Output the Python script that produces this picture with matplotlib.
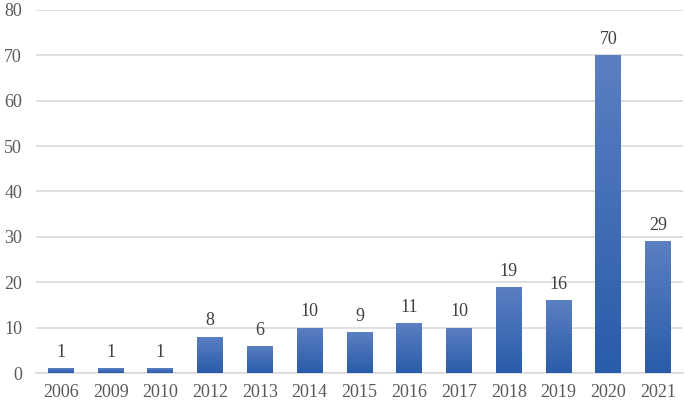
import matplotlib
matplotlib.use("Agg")
import matplotlib.pyplot as plt
import numpy as np
from matplotlib.colors import LinearSegmentedColormap

years = ["2006", "2009", "2010", "2012", "2013", "2014", "2015", "2016", "2017", "2018", "2019", "2020", "2021"]
counts = [1, 1, 1, 8, 6, 10, 9, 11, 10, 19, 16, 70, 29]
yticks = [0, 10, 20, 30, 40, 50, 60, 70, 80]

plt.rcParams['font.family'] = ['Liberation Serif', 'DejaVu Serif']

fig = plt.figure(figsize=(6.85, 4.01), dpi=100)
ax = fig.add_axes([36/685, 28/401, 647/685, 363/401])

x = np.arange(len(years))
bars = ax.bar(x, counts, width=0.52, color='none', edgecolor='none', zorder=3)

cmap = LinearSegmentedColormap.from_list("g", ["#2a5ca9", "#5b7fc2"])
grad = np.linspace(0, 1, 256).reshape(-1, 1)
for b in bars:
    x0, y0 = b.get_x(), b.get_y()
    w, h = b.get_width(), b.get_height()
    im = ax.imshow(grad, cmap=cmap, origin='lower', aspect='auto',
                   extent=(x0, x0 + w, y0, y0 + h), zorder=3)
    im.set_clip_path(b)

for xi, v in zip(x, counts):
    ax.text(xi, v + 1.6, str(v), ha='center', va='bottom', fontsize=13, color='#404040')

ax.set_xlim(-0.5, len(years) - 0.5)
ax.set_ylim(0, 80)
ax.set_yticks(yticks)
ax.set_xticks(x)
ax.set_xticklabels(years)
ax.grid(axis='y', color='#d9d9d9', linewidth=1.2, zorder=0)
ax.set_axisbelow(True)
for s in ['top', 'right', 'left']:
    ax.spines[s].set_visible(False)
ax.spines['bottom'].set_color('#d9d9d9')
ax.spines['bottom'].set_linewidth(1.2)
ax.tick_params(axis='both', length=0, labelsize=13, labelcolor='#595959')
ax.tick_params(axis='y', pad=10)
ax.tick_params(axis='x', pad=8)

fig.savefig("out.png", dpi=100)
